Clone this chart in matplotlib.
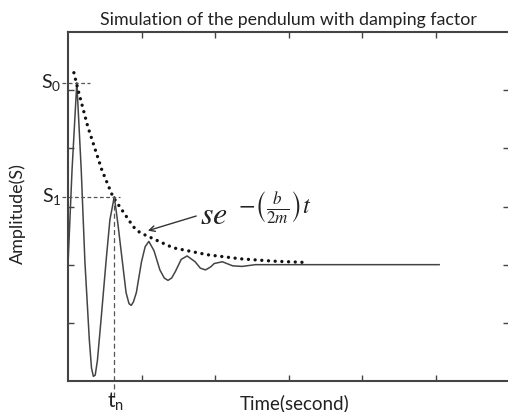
import matplotlib
matplotlib.use("Agg")
import matplotlib.pyplot as plt

plt.rcParams['font.family'] = ['Lato', 'DejaVu Sans']
plt.rcParams['mathtext.fontset'] = 'custom'
plt.rcParams['mathtext.rm'] = 'Lato'
plt.rcParams['mathtext.it'] = 'Lato:italic'

# damped oscillation (time, amplitude)
t_wave = [0.0, 0.055, 0.12, 0.18, 0.23, 0.29, 0.32, 0.345, 0.37, 0.40, 0.45, 0.52, 0.57,
          0.63, 0.68, 0.74, 0.79, 0.83, 0.86, 0.89, 0.93, 1.0, 1.05, 1.10, 1.17, 1.25, 1.31, 1.36,
          1.41, 1.46, 1.54, 1.62, 1.73, 1.80, 1.87, 1.94, 1.99, 2.10, 2.24, 2.37, 2.55, 5.05]
s_wave = [0.0, 1.63, 3.13, 1.63, 0.05, -1.29, -1.78, -1.92, -1.90, -1.65, -0.94, 0.09, 0.77,
          1.17, 0.69, 0.05, -0.48, -0.67, -0.70, -0.64, -0.48, 0.05, 0.31, 0.40, 0.24, -0.09, -0.23, -0.27,
          -0.23, -0.12, 0.09, 0.15, 0.05, -0.06, -0.09, -0.04, 0.02, 0.05, -0.02, -0.03, 0.0, 0.0]

# envelope s*e^-(b/2m)t
t_env = [0.08, 0.14, 0.27, 0.46, 0.61, 0.89, 0.98, 1.43, 1.9, 2.35, 2.8, 3.2]
s_env = [3.30, 2.99, 2.37, 1.63, 1.17, 0.65, 0.55, 0.29, 0.17, 0.10, 0.06, 0.04]

S0 = 3.13
S1 = 1.17
t0 = 0.12
tn = 0.63

fig = plt.figure(figsize=(5.08, 4.12), dpi=100)
ax = fig.add_axes([68/508, 31/412, 441/508, 349/412])

ax.plot(t_wave, s_wave, color='#444444', lw=1.1)
ax.plot(t_env, s_env, color='#111111', lw=2.4, ls=(0, (0.01, 2.0)),
        dash_capstyle='round')

# guide lines
ax.plot([-0.08, t0 + 0.18], [S0, S0], color='#555555', lw=0.9, ls=(0, (3, 2)), clip_on=False)
ax.plot([-0.08, tn + 0.08], [S1, S1], color='#555555', lw=0.9, ls=(0, (3, 2)), clip_on=False)
ax.plot([tn, tn], [S1, -2.3], color='#555555', lw=0.9, ls=(0, (4, 2.5)), clip_on=False)

ax.annotate("", xy=(1.05, 0.57), xytext=(1.78, 0.85),
            arrowprops=dict(arrowstyle='->', color='#333333', lw=1.0))
ax.text(1.80, 0.70, r"$se$", fontsize=23, color='#222222',
        ha='left', va='baseline', math_fontfamily='stix')
ax.text(2.31, 1.0, r"$-\left(\frac{b}{2m}\right)t$", fontsize=17.5, color='#222222',
        ha='left', va='center', math_fontfamily='stix')

ax.set_xlim(0, 6)
ax.set_ylim(-2, 4)
ax.set_xticks([1, 2, 3, 4, 5])
ax.set_yticks([-1, 0, 1, 2, 3])
ax.set_xticklabels([])
ax.set_yticklabels([])
ax.tick_params(direction='in', length=4, width=1, color='#444444',
               top=True, right=True)
for side in ['left', 'bottom', 'top']:
    ax.spines[side].set_color('#444444')
    ax.spines[side].set_linewidth(1.5)
ax.spines['right'].set_visible(False)

# custom labels for S0, S1, tn
ax.text(-0.09, S0, r"S$_\mathrm{0}$", ha='right', va='center', fontsize=14, color='#222222')
ax.text(-0.09, S1, r"S$_\mathrm{1}$", ha='right', va='center', fontsize=14, color='#222222')
ax.text(tn + 0.02, -2.36, r"t$_\mathrm{n}$", ha='center', va='center', fontsize=15, color='#222222')

ax.set_xlabel("Time(second)", fontsize=13.5, color='#222222')
ax.xaxis.set_label_coords(0.513, -0.038)
ax.set_ylabel("Amplitude(S)", fontsize=13, color='#222222')
ax.yaxis.set_label_coords(-0.095, 0.48)
ax.set_title("Simulation of the pendulum with damping factor", fontsize=12.8,
             color='#222222', pad=5)

fig.savefig("out.png", dpi=100)
